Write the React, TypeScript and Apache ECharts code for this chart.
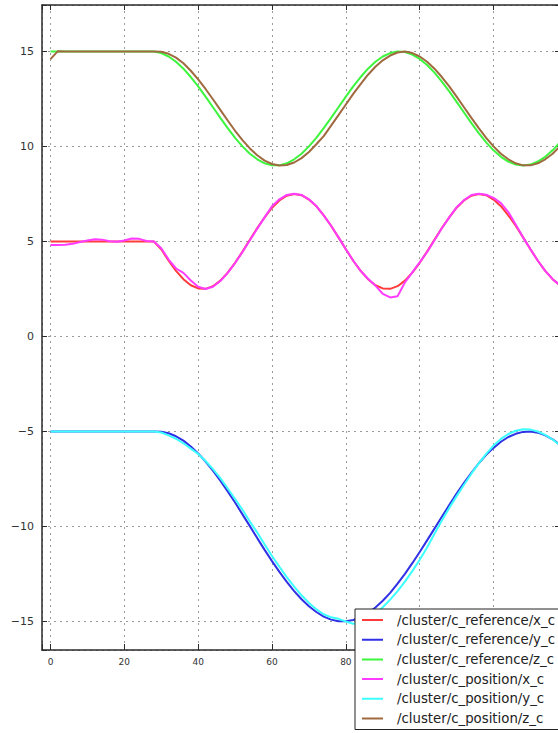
import React, { useEffect, useRef } from "react";
import * as echarts from "echarts";

const timeS = [
  0, 2, 4, 6, 8, 10, 12, 14, 16, 18, 20, 22, 24, 26, 28, 30, 32, 34, 36, 38,
  40, 42, 44, 46, 48, 50, 52, 54, 56, 58, 60, 62, 64, 66, 68, 70, 72, 74, 76, 78,
  80, 82, 84, 86, 88, 90, 92, 94, 96, 98, 100, 102, 104, 106, 108, 110, 112, 114, 116, 118,
  120, 122, 124, 126, 128, 130, 132, 134, 136, 138,
];

const xRef = [
  5, 5, 5, 5, 5, 5, 5, 5, 5, 5, 5, 5, 5, 5, 5,
  4.59, 3.99, 3.46, 3.02, 2.7, 2.53, 2.51, 2.65, 2.94, 3.36, 3.88, 4.47, 5.09, 5.71, 6.27,
  6.78, 7.16, 7.41, 7.5, 7.44, 7.21, 6.86, 6.38, 5.83, 5.22, 4.59, 3.99, 3.46, 3.02, 2.7,
  2.53, 2.51, 2.65, 2.94, 3.36, 3.88, 4.47, 5.09, 5.71, 6.27, 6.78, 7.16, 7.41, 7.5, 7.44,
  7.21, 6.86, 6.38, 5.83, 5.22, 4.59, 3.99, 3.46, 3.02, 2.7,
];

const yRef = [
  -5, -5, -5, -5, -5, -5, -5, -5, -5, -5, -5, -5, -5, -5, -5,
  -5.01, -5.09, -5.25, -5.48, -5.79, -6.15, -6.58, -7.06, -7.59, -8.15, -8.74, -9.36, -9.98, -10.61, -11.23,
  -11.82, -12.39, -12.91, -13.4, -13.83, -14.2, -14.5, -14.74, -14.9, -14.99, -14.99, -14.92, -14.78, -14.56, -14.26,
  -13.91, -13.49, -13.01, -12.49, -11.93, -11.34, -10.73, -10.11, -9.49, -8.87, -8.27, -7.7, -7.17, -6.67, -6.23,
  -5.86, -5.54, -5.29, -5.12, -5.02, -5.0, -5.06, -5.2, -5.41, -5.69,
];

const zRef = [
  15, 15, 15, 15, 15, 15, 15, 15, 15, 15, 15, 15, 15, 15, 15,
  14.92, 14.74, 14.46, 14.1, 13.66, 13.17, 12.63, 12.07, 11.51, 10.97, 10.46, 10.01, 9.62, 9.33, 9.12,
  9.01, 9.01, 9.12, 9.33, 9.62, 10.01, 10.46, 10.97, 11.51, 12.07, 12.63, 13.17, 13.66, 14.1, 14.46,
  14.74, 14.92, 15.0, 14.97, 14.84, 14.61, 14.29, 13.89, 13.42, 12.9, 12.35, 11.79, 11.23, 10.71, 10.22,
  9.8, 9.46, 9.21, 9.05, 9.0, 9.05, 9.21, 9.46, 9.8, 10.22,
];

const xPos = [
  4.82, 4.82, 4.83, 4.88, 4.97, 5.05, 5.12, 5.1, 5.01, 4.99, 5.05, 5.16, 5.14, 5.03, 5.0,
  4.65, 4.05, 3.58, 3.35, 2.95, 2.62, 2.5, 2.62, 2.92, 3.35, 3.87, 4.45, 5.07, 5.68, 6.27,
  6.86, 7.22, 7.45, 7.52, 7.45, 7.22, 6.87, 6.38, 5.83, 5.22, 4.59, 3.99, 3.46, 3.04, 2.68,
  2.25, 2.06, 2.12, 2.85, 3.38, 3.9, 4.45, 5.07, 5.7, 6.27, 6.8, 7.18, 7.45, 7.52, 7.46,
  7.3, 7.02, 6.55, 5.9, 5.22, 4.59, 3.99, 3.46, 3.02, 2.7,
];

const yPos = [
  -5, -5, -5, -5, -5, -5, -5, -5, -5, -5, -5, -5, -5, -5, -5,
  -5.05, -5.2, -5.38, -5.62, -5.9, -6.18, -6.55, -6.98, -7.45, -8.0, -8.55, -9.12, -9.74, -10.32, -10.95,
  -11.55, -12.12, -12.66, -13.16, -13.62, -14.02, -14.36, -14.62, -14.78, -14.86, -15.0, -15.12, -15.05, -14.9, -14.6,
  -14.25, -13.85, -13.4, -12.9, -12.35, -11.75, -11.1, -10.38, -9.68, -9.02, -8.4, -7.8, -7.22, -6.68, -6.18,
  -5.74, -5.39, -5.13, -4.96, -4.88, -4.9, -5.0, -5.18, -5.42, -5.72,
];

const zPos = [
  14.6, 15.02, 15, 15, 15, 15, 15, 15, 15, 15, 15, 15, 15, 15, 15,
  14.99, 14.88, 14.68, 14.38, 13.99, 13.54, 13.03, 12.49, 11.93, 11.37, 10.83, 10.34, 9.9, 9.54, 9.26,
  9.08, 9.0, 9.03, 9.16, 9.39, 9.71, 10.12, 10.55, 11.1, 11.65, 12.21, 12.77, 13.29, 13.78, 14.2,
  14.54, 14.79, 14.95, 15.0, 14.92, 14.74, 14.46, 14.1, 13.66, 13.17, 12.63, 12.07, 11.51, 10.97, 10.46,
  10.01, 9.62, 9.33, 9.12, 9.01, 9.01, 9.12, 9.33, 9.62, 10.01,
];

// x tick labels that are visible (the others sit under the legend box)
const xTickLabels = [0, 20, 40, 60, 80];

const seriesNames = [
  "/cluster/c_reference/x_c",
  "/cluster/c_reference/y_c",
  "/cluster/c_reference/z_c",
  "/cluster/c_position/x_c",
  "/cluster/c_position/y_c",
  "/cluster/c_position/z_c",
];
const seriesValues = [xRef, yRef, zRef, xPos, yPos, zPos];
const seriesColors = ["#ff3b3b", "#3030e6", "#3cf53c", "#ff3cff", "#3cffff", "#a06a40"];

const FONT = "DejaVu Sans";
const AXIS_COLOR = "#2a2a2a";

const minus = (v: number) => (v < 0 ? "\u2212" + Math.abs(v) : String(v));

export default function App() {
  const ref = useRef<HTMLDivElement>(null);
  useEffect(() => {
    const chart = echarts.init(ref.current!, null, { renderer: "svg" });
    const axisLine = { show: true, onZero: false, lineStyle: { color: AXIS_COLOR, width: 1.5 } };
    const dotted = { show: true, lineStyle: { type: [2, 4] as any, color: "#9a9a9a", width: 1 } };
    const xCommon = { type: "value", min: -2.3, max: 138, minInterval: 20, maxInterval: 20 };
    const yCommon = { type: "value", min: -16.5, max: 17.45, minInterval: 5, maxInterval: 5 };
    const option: any = {
      animation: false,
      grid: { left: 42, top: 5, width: 518, height: 645, containLabel: false },
      xAxis: [
        {
          ...xCommon,
          position: "bottom",
          axisLine,
          axisTick: { inside: true, length: 6, lineStyle: { color: AXIS_COLOR } },
          axisLabel: {
            fontSize: 9,
            color: "#333",
            fontFamily: FONT,
            margin: 7,
            formatter: (v: number) =>
              xTickLabels.some((l) => Math.abs(l - v) < 1e-6) ? minus(v) : "",
          },
          splitLine: dotted,
        },
        {
          ...xCommon,
          position: "top",
          axisLine,
          axisTick: { inside: true, length: 5, lineStyle: { color: AXIS_COLOR } },
          axisLabel: { show: false },
          splitLine: { show: false },
        },
      ],
      yAxis: [
        {
          ...yCommon,
          position: "left",
          axisLine,
          axisTick: { inside: true, length: 5, lineStyle: { color: AXIS_COLOR } },
          axisLabel: {
            fontSize: 11,
            color: "#333",
            fontFamily: FONT,
            margin: 8,
            formatter: (v: number) => (Math.abs(v % 5) < 1e-6 ? minus(v) : ""),
          },
          splitLine: dotted,
        },
        {
          ...yCommon,
          position: "right",
          axisLine,
          axisTick: { inside: true, length: 5, lineStyle: { color: AXIS_COLOR } },
          axisLabel: { show: false },
          splitLine: { show: false },
        },
      ],
      legend: {
        orient: "vertical",
        left: 355,
        top: 609,
        padding: [4, 10, 4, 7],
        itemGap: 5.7,
        itemWidth: 30,
        itemHeight: 2,
        icon: "path://M0,0h21v2h-21z M29.99,0h0.01v2h-0.01z",
        backgroundColor: "#ffffff",
        borderColor: "#222",
        borderWidth: 1,
        borderRadius: 0,
        selectedMode: false,
        textStyle: { fontSize: 13.3, lineHeight: 14, color: "#222", fontFamily: FONT },
        data: seriesNames,
      },
      series: seriesNames.map((name, i) => ({
        name,
        type: "line",
        xAxisIndex: 0,
        yAxisIndex: 0,
        showSymbol: false,
        symbol: "none",
        color: seriesColors[i],
        itemStyle: { color: seriesColors[i] },
        lineStyle: { color: seriesColors[i], width: 2 },
        data: timeS.map((t, k) => [t, seriesValues[i][k]]),
        z: 2,
      })),
    };
    chart.setOption(option);
    return () => chart.dispose();
  }, []);
  return (
    <div
      style={{
        position: "fixed",
        left: 0,
        top: 0,
        width: 558,
        height: 733,
        overflow: "hidden",
        background: "#fff",
      }}
    >
      <div ref={ref} style={{ width: 600, height: 733 }} />
    </div>
  );
}
